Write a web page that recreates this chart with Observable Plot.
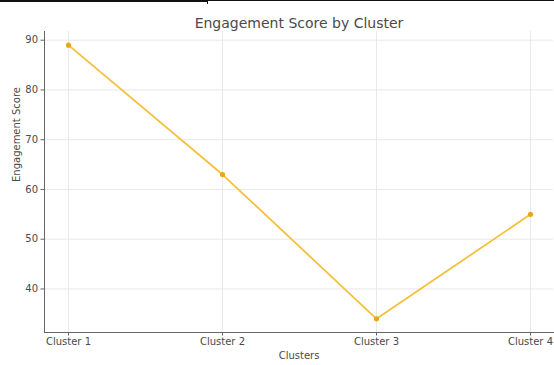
<!DOCTYPE html>
<html>
<head>
<meta charset="utf-8">
<script src="https://cdn.jsdelivr.net/npm/d3@7"></script>
<script src="https://cdn.jsdelivr.net/npm/@observablehq/plot@0.6"></script>
<style>
  html, body { margin: 0; padding: 0; background: #fff; }
  #wrap { position: relative; width: 554px; height: 365px; overflow: hidden; }
  #topline { position: absolute; left: 0; top: 0; width: 554px; height: 1px; background: #111; }
  #topline2 { position: absolute; left: 0; top: 0; width: 208px; height: 2px; background: #111; }
  #topline3 { position: absolute; left: 207px; top: 0; width: 1px; height: 4px; background: #111; }
  svg { display: block; }
</style>
</head>
<body>
<div id="wrap"><div id="chart"></div><div id="topline"></div><div id="topline2"></div><div id="topline3"></div></div>
<script>
// Engagement score per cluster
const clusters = ["Cluster 1", "Cluster 2", "Cluster 3", "Cluster 4"];
const scores = [89, 63, 34, 55];
const yTicks = [40, 50, 60, 70, 80, 90];

const rows = clusters.map((c, i) => ({cluster: c, score: scores[i]}));

const font = "DejaVu Sans, sans-serif";
const lineColor = "#f4c040";
const dotColor = "#e6a817";
const textColor = "#4a4a4a";

const chart = Plot.plot({
  width: 554,
  height: 365,
  marginLeft: 44,
  marginRight: 1,
  marginTop: 31,
  marginBottom: 33,
  style: {fontFamily: font, fontSize: "10px", color: textColor, background: "#fff"},
  x: {type: "point", domain: clusters, padding: 0.15, label: null},
  y: {domain: [31.25, 91.75], label: null},
  marks: [
    Plot.gridY(yTicks, {stroke: "#e3e3e3", strokeOpacity: 1, strokeWidth: 0.8}),
    Plot.gridX(clusters, {stroke: "#e3e3e3", strokeOpacity: 1, strokeWidth: 0.8}),
    Plot.axisY(yTicks, {tickSize: 3.5, tickPadding: 3, stroke: "#666", fill: textColor, fontSize: 10}),
    Plot.axisX(clusters, {tickSize: 3.5, tickPadding: 2, stroke: "#666", fill: textColor, fontSize: 10}),
    Plot.frame({anchor: "left", stroke: "#666"}),
    Plot.frame({anchor: "bottom", stroke: "#666"}),
    Plot.line(rows, {x: "cluster", y: "score", stroke: lineColor, strokeWidth: 1.8}),
    Plot.dot(rows, {x: "cluster", y: "score", fill: dotColor, r: 2.6, stroke: "none"}),
    Plot.text(["Engagement Score by Cluster"], {
      frameAnchor: "top", dy: -13, fontSize: 14, fill: textColor, fontFamily: font
    }),
    Plot.text(["Clusters"], {
      frameAnchor: "bottom", dy: 26, fontSize: 10, fill: textColor, fontFamily: font
    }),
    Plot.text(["Engagement Score"], {
      frameAnchor: "left", dx: -28, rotate: -90, fontSize: 10, fill: textColor, fontFamily: font
    })
  ]
});

document.getElementById("chart").appendChild(chart);
</script>
</body>
</html>
